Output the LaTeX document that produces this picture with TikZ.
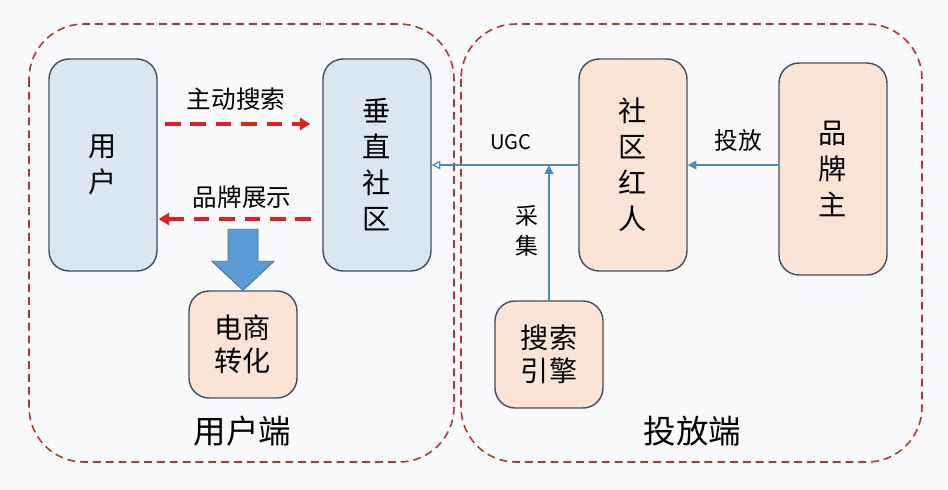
\documentclass[tikz,border=0pt]{standalone}
\usepackage{fontspec}
\setmainfont{Noto Sans CJK SC}
\usetikzlibrary{arrows.meta,positioning}

\definecolor{pagebg}{HTML}{FAFAFC}
\definecolor{boxblue}{HTML}{DCE6F2}
\definecolor{boxpeach}{HTML}{FBE3D6}
\definecolor{boxline}{HTML}{3F4E60}
\definecolor{dashred}{HTML}{DE2121}
\definecolor{regionred}{HTML}{C4302E}
\definecolor{linkblue}{HTML}{4F88C6}
\definecolor{bigarrow}{HTML}{5B9BD5}
\definecolor{bigarrowline}{HTML}{41719C}

\begin{document}
\begin{tikzpicture}[x=0.02cm,y=-0.02cm]
    \tikzstyle{box}=[draw=boxline,line width=0.8pt,rounded corners=0.4cm,minimum width=2.16cm,inner sep=0pt,align=center,font=\fontsize{16}{20.5}\selectfont]
    \tikzstyle{tall box}=[box,minimum height=4.24cm]
    \tikzstyle{small box}=[box,minimum height=2.14cm,font=\fontsize{16}{18.5}\selectfont]
    \tikzstyle{blue box}=[fill=boxblue]
    \tikzstyle{peach box}=[fill=boxpeach]
    \tikzstyle{region}=[draw=regionred,line width=0.9pt,dash pattern=on 4.5pt off 2.8pt,rounded corners=1.1cm]
    \tikzstyle{flow}=[draw=dashred,line width=2.2pt,dash pattern=on 9pt off 5.5pt,-{Triangle[length=6pt,width=7pt]}]
    \tikzstyle{link}=[draw=linkblue,line width=0.7pt]
    \tikzstyle{annot}=[inner sep=0pt,align=center,font=\fontsize{14}{17.5}\selectfont]
    \tikzstyle{side label}=[inner sep=0pt,font=\fontsize{18.5}{22}\selectfont]

    % Page and its margins
    \fill[pagebg] (0,0) rectangle (948,490);
    \useasboundingbox (0,0) rectangle (948,490);

    % Draw the two dashed regions with their labels
    \foreach \xa/\xb/\name/\lab in {29/454/user/用户端,461/922/ad/投放端}
    {
        \draw[region] (\xa,24) rectangle (\xb,462);
        \node[side label] (\name-label) at ({(\xa+\xb)/2+1},431) {\lab};
    }

    % User side
    \node[tall box,blue box] (yh) at (103,165) {用\\户};
    \node[tall box,blue box] (cz) at (377,165) {垂\\直\\社\\区};
    \node[small box,peach box] (ds) at (243,344.5) {电商\\转化};

    % Ad side
    \node[tall box,peach box] (hr) at (633,165) {社\\区\\红\\人};
    \node[tall box,peach box] (pp) at (833,169) {品\\牌\\主};
    \node[small box,peach box] (ss) at (549,354.5) {搜索\\引擎};

    % Dashed flows between user and community
    \draw[flow,shorten <=0.14cm,shorten >=0.24cm] ([yshift=0.82cm]yh.east) -- ([yshift=0.82cm]cz.west);
    \draw[flow,shorten <=0.22cm,shorten >=0.02cm] ([yshift=-1.08cm]cz.west) -- ([yshift=-1.08cm]yh.east);
    \node[annot] (search) at (236,99) {主动搜索};
    \node[annot] (show) at (242,197) {品牌展示};

    % Big arrow down to e-commerce
    \begin{scope}[shift={(ds.north)}]
        \filldraw[fill=bigarrow,draw=bigarrowline,line width=0.5pt] (0,0) -- (-31,-29) -- (-15,-29) -- (-15,-61) -- (15,-61) -- (15,-29) -- (31,-29) -- cycle;
    \end{scope}

    % Blue links
    \draw[link,-{Triangle[open,length=5pt,width=5pt]}] (hr.west) -- (cz.east);
    \draw[link,-{Triangle[length=5pt,width=5pt]}] (pp.west |- hr.east) -- (hr.east);
    \draw[link,-{Triangle[length=5pt,width=5pt]}] (ss.north) -- (ss.north |- hr.west);
    \node[annot,font=\fontsize{11.5}{14}\selectfont] (ugc) at (511,142) {UGC};
    \node[annot,font=\fontsize{13.5}{17}\selectfont] (tf) at (738,140) {投放};
    \node[annot,font=\fontsize{13}{17.5}\selectfont] (cj) at (527,231) {采\\集};
\end{tikzpicture}
\end{document}
